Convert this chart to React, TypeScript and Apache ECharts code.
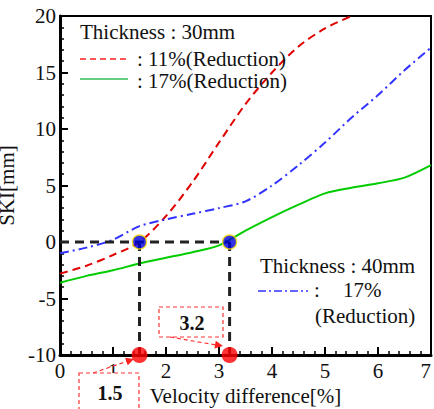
import React, { useEffect, useRef } from "react";
import * as echarts from "echarts";

const xRed = [0, 0.5, 1, 1.5, 2, 2.5, 3, 3.5, 4, 4.5, 5, 5.5];
const yRed = [-2.8, -2.1, -1.15, 0, 2.3, 5.3, 8.8, 12.2, 15.0, 17.3, 18.9, 20.0];
const xGreen = [0, 0.5, 1, 1.5, 2, 2.5, 3, 3.5, 4, 4.5, 5, 5.5, 6, 6.5, 7];
const yGreen = [-3.6, -3.0, -2.5, -1.9, -1.4, -0.9, -0.3, 1.0, 2.2, 3.3, 4.3, 4.8, 5.2, 5.7, 6.8];
const xBlue = [0, 0.5, 1, 1.5, 2, 2.5, 3, 3.5, 4, 4.5, 5, 5.5, 6, 6.5, 7];
const yBlue = [-1.0, -0.5, 0.2, 1.4, 2.0, 2.5, 3.0, 3.6, 5.0, 6.8, 8.8, 11.0, 13.0, 15.2, 17.2];
const crossX = [1.5, 3.2];
const crossLabels = ["1.5", "3.2"];
const yMin = -10;

const FONT = "Liberation Serif";

function arrowHead(x1: number, y1: number, x2: number, y2: number, len = 8, half = 4) {
  const dx = x2 - x1, dy = y2 - y1;
  const d = Math.hypot(dx, dy);
  const ux = dx / d, uy = dy / d;
  const bx = x2 - ux * len, by = y2 - uy * len;
  return [
    [x2, y2],
    [bx - uy * half, by + ux * half],
    [bx + uy * half, by - ux * half],
  ];
}

function txt(text: string, x: number, y: number, extra: any = {}) {
  return {
    type: "text", x, y, z: 11,
    style: {
      text, fontFamily: FONT, fontSize: 21, fill: "#111",
      verticalAlign: "middle", lineHeight: 16, ...extra,
    },
  };
}

export default function App() {
  const ref = useRef<HTMLDivElement>(null);
  useEffect(() => {
    if (!ref.current) return;
    const chart = echarts.init(ref.current, undefined, { renderer: "svg" });
    const red = "#e00000";
    const dashRed = { stroke: "#ff3333", lineWidth: 1.2, lineDash: [4, 3] };
    const option: any = {
      animation: false,
      backgroundColor: "#fff",
      grid: {
        left: 60, right: 3, top: 16, bottom: 54,
        outerBoundsMode: "none", containLabel: false,
        show: true, borderColor: "#000", borderWidth: 2, backgroundColor: "transparent",
      },
      xAxis: {
        type: "value", min: 0, max: 7, interval: 1,
        name: "Velocity difference[%]", nameLocation: "middle", nameGap: 17,
        nameTextStyle: { fontFamily: FONT, fontSize: 21, color: "#111" },
        axisLine: { show: true, onZero: false, lineStyle: { color: "#000", width: 3 } },
        axisTick: { show: true, inside: true, length: 8, lineStyle: { color: "#000", width: 2 } },
        minorTick: { show: true, splitNumber: 5, length: 4, lineStyle: { color: "#000", width: 1.5 } },
        axisLabel: { fontFamily: FONT, fontSize: 21, color: "#111", margin: 5, alignMaxLabel: "right" },
        splitLine: { show: false },
      },
      yAxis: {
        type: "value", min: -10, max: 20, interval: 5,
        name: "SKI[mm]", nameLocation: "middle", nameGap: 29,
        nameTextStyle: { fontFamily: FONT, fontSize: 21, color: "#111", lineHeight: 20 },
        axisLine: { show: true, onZero: false, lineStyle: { color: "#000", width: 3 } },
        axisTick: { show: true, inside: true, length: 8, lineStyle: { color: "#000", width: 2 } },
        minorTick: { show: true, splitNumber: 5, length: 4, lineStyle: { color: "#000", width: 1.5 } },
        axisLabel: { fontFamily: FONT, fontSize: 21, color: "#111", margin: 4 },
        splitLine: { show: false },
      },
      series: [
        {
          type: "line", smooth: 0.3, symbol: "none",
          data: xRed.map((x, i) => [x, yRed[i]]),
          lineStyle: { color: red, width: 2, type: [8, 5] },
          z: 3,
        },
        {
          type: "line", smooth: 0.3, symbol: "none",
          data: xGreen.map((x, i) => [x, yGreen[i]]),
          lineStyle: { color: "#00cc00", width: 2 },
          z: 3,
        },
        {
          type: "line", smooth: 0.3, symbol: "none",
          data: xBlue.map((x, i) => [x, yBlue[i]]),
          lineStyle: { color: "#3333ff", width: 2, type: [9, 4, 2, 4] },
          z: 3,
        },
        {
          type: "line", symbol: "none",
          data: [[0, 0], [crossX[1], 0]],
          lineStyle: { color: "#222", width: 3, type: [9, 6] },
          z: 4,
        },
        ...crossX.map((cx) => ({
          type: "line", symbol: "none",
          data: [[cx, 0], [cx, yMin]],
          lineStyle: { color: "#222", width: 3, type: [9, 6] },
          z: 4,
        })),
        {
          type: "scatter", symbol: "circle", symbolSize: 14,
          data: crossX.map((cx) => [cx, 0]),
          itemStyle: { color: "#0000dd", borderColor: "#ffe000", borderWidth: 1.5 },
          z: 6,
        },
        {
          type: "scatter", symbol: "circle", symbolSize: 16,
          data: crossX.map((cx) => [cx, yMin]),
          itemStyle: { color: "#ff0000" },
          clip: false,
          z: 6,
        },
      ],
      graphic: [
        txt("Thickness : 30mm", 80, 32),
        { type: "line", shape: { x1: 80, y1: 59, x2: 128, y2: 59 }, style: { stroke: "#ff2020", lineWidth: 1.5, lineDash: [6, 4] } },
        txt(": 11%(Reduction)", 137, 59),
        { type: "line", shape: { x1: 80, y1: 79, x2: 128, y2: 79 }, style: { stroke: "#33bb55", lineWidth: 1.5 } },
        txt(": 17%(Reduction)", 137, 81),

        txt("Thickness : 40mm", 260, 266),
        { type: "line", shape: { x1: 258, y1: 291, x2: 308, y2: 291 }, style: { stroke: "#3333ff", lineWidth: 1.5, lineDash: [8, 3, 2, 3] } },
        txt(":", 314, 290),
        txt("17%", 343, 290),
        txt("(Reduction)", 315, 316),

        { type: "rect", shape: { x: 79, y: 373, width: 60, height: 50 }, style: { fill: "#fff", ...dashRed }, z: 10 },
        txt(crossLabels[0], 110, 393, { fontWeight: "bold", fontSize: 20, align: "center" }),
        { type: "line", shape: { x1: 93, y1: 373, x2: 128, y2: 361 }, style: dashRed, z: 10 },
        { type: "polygon", shape: { points: arrowHead(93, 373, 134, 359) }, style: { fill: "#ff2020" }, z: 10 },

        { type: "rect", shape: { x: 159, y: 307, width: 64, height: 30 }, style: { fill: "#fff", ...dashRed }, z: 10 },
        txt(crossLabels[1], 192, 323, { fontWeight: "bold", fontSize: 20, align: "center" }),
        { type: "line", shape: { x1: 170, y1: 337, x2: 216, y2: 345 }, style: dashRed, z: 10 },
        { type: "polygon", shape: { points: arrowHead(170, 337, 223, 346) }, style: { fill: "#ff2020" }, z: 10 },
      ],
    };
    chart.setOption(option);
    return () => chart.dispose();
  }, []);
  return (
    <div
      ref={ref}
      style={{ position: "absolute", left: 0, top: 0, width: 434, height: 409 }}
    />
  );
}
